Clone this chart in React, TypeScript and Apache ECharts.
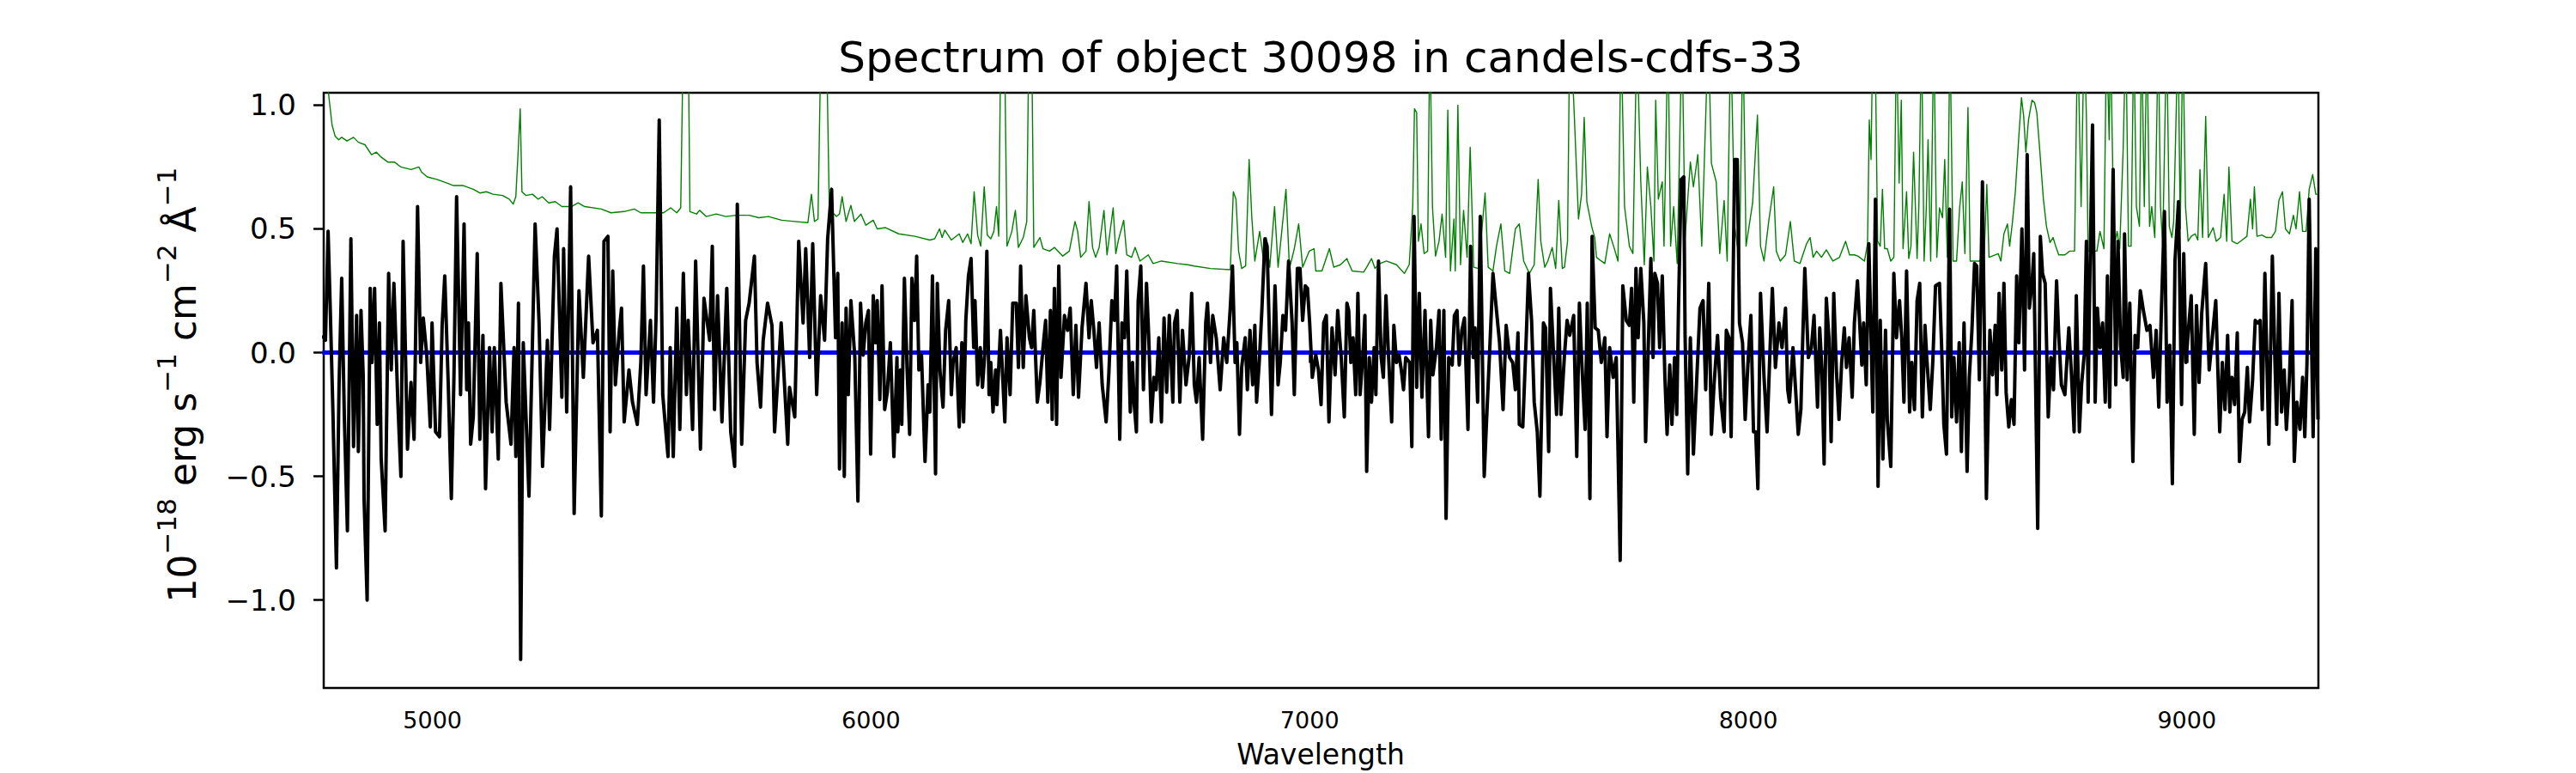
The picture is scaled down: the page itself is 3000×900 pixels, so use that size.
import React, { useEffect, useRef } from "react";
import * as echarts from "echarts";

const titleText = "Spectrum of object 30098 in candels-cdfs-33";
const xLabelText = "Wavelength";
const yLabelRich = "{m|10}{s|−18}{m| erg s}{s|−1}{m| cm}{s|−2}{m| Å}{s|−1}";
const xTicks = [5000, 6000, 7000, 8000, 9000];
const yTicks = [-1.0, -0.5, 0.0, 0.5, 1.0];
const xRange = [4752, 9300];
const yRange = [-1.355, 1.05];
const zeroLine = [[4749, 0], [9300, 0]];

// observed flux (black), 10^-18 erg/s/cm2/A, [wavelength, flux]
const spectrum1 = [
[4749,0.07],[4756,0.05],[4762,0.49],[4767,0.17],[4773,-0.24],[4781,-0.87],[4787,-0.13],[4793,0.30],[4799,-0.26],[4806,-0.72],[4814,0.46],[4820,-0.38],[4827,0.15],[4831,-0.40],[4837,0.17],[4842,-0.09],[4844,-0.59],[4851,-1.00],[4858,0.26],[4862,-0.04],[4868,0.26],[4874,-0.29],[4879,0.12],[4883,-0.43],[4892,-0.72],[4900,0.32],[4906,-0.07],[4912,0.28],[4921,-0.20],[4928,-0.50],[4933,0.45],[4943,-0.39],[4951,-0.12],[4958,-0.35],[4966,0.59],[4973,-0.04],[4979,0.14],[4987,-0.01],[4995,-0.30],[4999,0.12],[5007,-0.32],[5016,-0.34],[5022,0.11],[5028,0.31],[5036,-0.13],[5043,-0.59],[5049,-0.09],[5055,0.63],[5064,-0.17],[5072,0.52],[5078,-0.15],[5082,0.12],[5087,-0.37],[5093,-0.26],[5102,0.40],[5108,-0.35],[5115,0.07],[5121,-0.55],[5130,0.02],[5136,-0.32],[5141,0.02],[5150,-0.43],[5156,0.28],[5168,-0.20],[5179,-0.37],[5186,0.02],[5190,-0.42],[5196,0.20],[5201,-1.24],[5207,0.04],[5220,-0.58],[5234,0.52],[5243,0.12],[5251,-0.46],[5262,0.05],[5267,-0.31],[5278,0.39],[5284,0.50],[5295,-0.18],[5299,0.42],[5306,-0.24],[5315,0.67],[5323,-0.65],[5334,0.25],[5344,-0.10],[5356,0.39],[5366,0.04],[5376,0.09],[5385,-0.66],[5391,0.45],[5400,0.47],[5405,-0.32],[5411,0.33],[5417,-0.13],[5426,0.09],[5431,0.18],[5437,-0.28],[5448,-0.07],[5456,-0.20],[5467,-0.29],[5475,-0.04],[5481,0.35],[5487,-0.17],[5497,0.13],[5504,-0.20],[5510,0.16],[5517,0.94],[5525,-0.17],[5537,-0.42],[5542,0.02],[5549,-0.42],[5557,0.18],[5564,-0.31],[5572,0.32],[5579,-0.17],[5583,0.13],[5593,-0.31],[5600,0.37],[5611,-0.39],[5619,0.22],[5632,0.05],[5638,0.43],[5643,-0.23],[5650,0.23],[5660,-0.28],[5671,0.26],[5680,-0.32],[5689,-0.46],[5695,0.60],[5705,-0.37],[5714,0.13],[5722,0.20],[5734,0.39],[5740,-0.04],[5748,-0.22],[5754,0.05],[5764,0.20],[5774,0.11],[5780,-0.32],[5795,0.12],[5810,-0.37],[5814,-0.14],[5826,-0.26],[5835,0.45],[5845,0.12],[5851,0.42],[5860,-0.02],[5867,0.44],[5876,-0.17],[5885,0.23],[5894,0.05],[5901,0.46],[5910,0.66]
];
const spectrum2 = [
[5919,0.06],[5924,0.32],[5928,-0.47],[5934,0.12],[5939,-0.50],[5943,0.18],[5948,-0.17],[5954,0.21],[5963,-0.02],[5970,-0.60],[5976,0.20],[5982,-0.01],[5988,0.12],[5994,0.17],[5999,-0.41],[6005,0.23],[6010,0.04],[6014,0.21],[6020,-0.19],[6025,0.27],[6031,-0.23],[6037,-0.16],[6044,0.04],[6052,-0.42],[6059,-0.02],[6061,-0.32],[6067,-0.07],[6070,-0.29],[6076,0.30],[6082,-0.06],[6088,-0.33],[6093,0.30],[6099,0.13],[6104,0.39],[6109,-0.07],[6115,-0.01],[6123,-0.44],[6130,-0.13],[6134,-0.24],[6140,0.31],[6147,-0.49],[6151,0.28],[6157,-0.07],[6164,-0.22],[6170,0.09],[6177,0.21],[6183,-0.17],[6187,-0.04],[6194,0.02],[6201,-0.30],[6207,0.04],[6211,-0.28],[6216,0.13],[6222,0.31],[6228,0.38],[6234,0.02],[6237,0.21],[6243,-0.13],[6249,0.02],[6254,-0.14],[6259,-0.01],[6264,0.41],[6269,-0.17],[6273,-0.04],[6278,-0.24],[6284,-0.07],[6287,-0.21],[6295,0.09],[6305,-0.28],[6310,0.06],[6317,-0.17],[6323,0.20],[6331,0.20],[6336,-0.06],[6341,0.35],[6347,-0.06],[6353,0.23],[6361,0.06],[6366,0.02],[6371,0.17],[6379,-0.20],[6385,-0.12],[6392,0.02],[6398,0.13],[6403,-0.20],[6409,0.17],[6413,-0.27],[6418,0.26],[6423,-0.29],[6428,0.35],[6433,-0.10],[6441,0.15],[6448,0.09],[6454,0.18],[6461,-0.17],[6467,0.11],[6473,-0.18],[6481,0.10],[6490,0.28],[6497,0.06],[6502,0.21],[6508,0.09],[6514,-0.06],[6520,0.12],[6527,-0.13],[6536,-0.28],[6542,-0.09],[6549,0.21],[6555,0.13],[6560,0.35],[6567,-0.35],[6572,0.12],[6578,0.06],[6583,0.33],[6591,-0.24],[6596,-0.04],[6600,-0.21],[6605,-0.32],[6609,0.21],[6615,0.35],[6621,-0.15],[6628,0.28],[6633,0.07],[6639,-0.28],[6645,-0.10],[6650,-0.15],[6656,0.06],[6662,-0.28],[6668,0.14],[6674,-0.16],[6680,0.15],[6688,-0.20],[6692,0.12],[6698,0.17],[6704,-0.20],[6710,0.09],[6718,-0.13],[6725,-0.02],[6731,0.24],[6737,-0.13],[6742,-0.20],[6748,-0.02],[6756,-0.35],[6763,0.12],[6767,0.20],[6774,-0.04],[6779,0.15],[6787,0.06],[6796,-0.15],[6804,0.06],[6811,-0.04],[6819,0.18],[6824,0.35],[6830,-0.04],[6834,0.04],[6840,-0.33],[6845,-0.06],[6853,0.06],[6858,-0.15],[6864,0.09],[6870,-0.13],[6875,0.11],[6879,-0.20],[6885,-0.04],[6891,0.17],[6898,0.46],[6903,0.43],[6909,0.02],[6913,-0.25],[6921,0.27],[6928,-0.13],[6933,-0.04],[6939,0.15],[6945,0.09],[6952,0.37],[6960,0.12],[6965,-0.17],[6972,0.34],[6978,0.34],[6984,0.13],[6990,0.27],[6995,0.26],[7000,0.12],[7006,-0.10],[7014,-0.01],[7020,-0.07],[7026,-0.21],[7032,0.12],[7038,0.15],[7044,-0.28],[7051,0.10],[7058,-0.09],[7064,0.17],[7072,-0.02],[7079,-0.26],[7085,0.20]
];
const spectrum3 = [
[7089,0.17],[7094,-0.04],[7099,0.06],[7105,-0.17],[7110,0.24],[7115,-0.17],[7121,-0.02],[7126,0.15],[7130,-0.48],[7136,-0.02],[7141,-0.20],[7147,0.02],[7151,-0.17],[7157,0.37],[7163,-0.02],[7168,-0.10],[7174,0.23],[7180,-0.02],[7187,-0.28],[7192,0.11],[7198,-0.04],[7204,-0.01],[7209,-0.07],[7214,-0.15],[7219,-0.02],[7228,-0.04],[7233,-0.38],[7238,0.55],[7244,-0.14],[7250,0.24],[7256,-0.18],[7263,0.17],[7271,-0.34],[7276,0.13],[7281,-0.09],[7289,0.02],[7295,0.17],[7300,-0.35],[7306,0.17],[7311,-0.67],[7317,-0.02],[7325,-0.05],[7330,0.15],[7336,0.17],[7341,-0.05],[7347,0.09],[7353,0.14],[7361,-0.31],[7367,0.43],[7373,-0.02],[7377,0.10],[7383,-0.20],[7389,0.55],[7398,-0.50],[7403,-0.29],[7411,0.03],[7418,0.32],[7426,0.17],[7433,0.04],[7441,-0.23],[7448,0.11],[7456,-0.02],[7463,-0.04],[7469,-0.15],[7475,0.08],[7478,-0.29],[7486,-0.30],[7494,0.07],[7499,0.32],[7506,0.13],[7512,-0.20],[7519,-0.32],[7525,-0.58],[7533,0.12],[7538,0.10],[7545,-0.40],[7549,0.26],[7557,-0.04],[7563,-0.25],[7568,0.18],[7573,-0.25],[7581,-0.01],[7587,0.13],[7593,0.07],[7602,0.15],[7609,-0.42],[7615,0.20],[7620,-0.02],[7628,-0.31],[7633,0.20],[7639,-0.59],[7644,0.47],[7651,0.10],[7658,0.09],[7665,-0.04],[7673,0.06],[7678,-0.34],[7684,0.02],[7692,-0.10],[7699,-0.02],[7708,-0.84],[7714,0.27],[7722,0.13],[7729,0.11],[7734,0.26],[7739,-0.20],[7744,0.34],[7749,0.06],[7755,0.34],[7762,0.12],[7766,-0.36],[7771,-0.04],[7778,0.38],[7783,-0.02],[7787,0.32],[7793,0.28],[7798,0.02],[7804,0.31],[7810,-0.10],[7815,-0.33],[7821,-0.05],[7826,-0.29],[7832,-0.02],[7837,-0.25],[7841,0.18],[7847,0.70],[7853,0.71],[7856,0.07],[7862,-0.49],[7868,0.06],[7875,-0.41],[7882,-0.13],[7890,0.18],[7897,0.21],[7903,-0.15],[7910,0.28],[7916,-0.33],[7922,-0.13],[7930,0.07],[7937,-0.18],[7945,-0.32],[7950,0.09],[7956,0.06],[7961,-0.34],[7969,0.78],[7975,0.78],[7980,0.12],[7987,0.04],[7993,-0.27],[8000,-0.02],[8006,0.15],[8012,-0.32],[8017,-0.32],[8022,-0.55],[8028,0.24],[8036,-0.10],[8043,-0.32],[8049,-0.02],[8055,0.26],[8062,-0.06],[8070,0.12],[8077,0.02],[8085,0.18],[8090,-0.15],[8094,-0.20],[8102,0.02],[8108,-0.15],[8114,-0.33],[8120,-0.23],[8124,0.04],[8129,0.34],[8137,-0.02],[8144,0.02],[8150,0.15],[8158,-0.22],[8163,0.10],[8168,-0.07],[8173,-0.45],[8178,0.22],[8184,0.06],[8189,-0.36],[8195,0.24],[8201,-0.07],[8207,-0.27],[8213,-0.04],[8219,0.10],[8224,-0.06],[8230,0.06],[8237,-0.18],[8242,0.12],[8249,0.29]
];
const spectrum4 = [
[8259,-0.05],[8263,0.12],[8269,-0.13],[8275,0.44],[8284,-0.24],[8290,0.62],[8296,-0.54],[8301,0.13],[8307,-0.43],[8313,0.09],[8317,-0.27],[8325,-0.46],[8332,0.32],[8338,0.06],[8345,0.21],[8350,0.06],[8355,-0.20],[8361,0.33],[8368,-0.24],[8373,-0.04],[8379,-0.23],[8385,0.21],[8391,0.28],[8397,-0.26],[8403,0.11],[8407,-0.02],[8415,-0.23],[8421,-0.03],[8427,0.27],[8436,0.28],[8441,0.02],[8446,-0.29],[8452,-0.41],[8459,0.58],[8464,-0.26],[8469,-0.02],[8475,-0.28],[8481,0.04],[8486,-0.40],[8492,0.12],[8499,-0.48],[8504,-0.10],[8510,0.09],[8516,0.36],[8521,0.35],[8527,-0.11],[8534,0.69],[8543,-0.59],[8551,0.09],[8557,-0.09],[8563,0.11],[8567,-0.17],[8572,0.24],[8578,-0.07],[8583,0.28],[8588,-0.16],[8594,-0.30],[8600,-0.19],[8606,-0.29],[8612,0.31],[8617,0.04],[8624,0.50],[8630,-0.07],[8636,0.80],[8641,0.18],[8647,0.28],[8651,0.40],[8660,-0.71],[8666,0.47],[8671,0.32],[8677,0.28],[8684,-0.26],[8690,-0.02],[8696,-0.15],[8703,0.29],[8708,0.07],[8714,-0.13],[8722,-0.17],[8731,0.10],[8737,-0.09],[8743,-0.32],[8748,0.23],[8755,-0.32],[8760,-0.13],[8766,-0.01],[8771,0.45],[8775,-0.20],[8779,0.31],[8785,0.92],[8791,-0.20],[8796,0.18],[8802,0.02],[8808,0.12],[8814,-0.20],[8819,0.31],[8824,-0.22],[8832,0.74],[8838,-0.13],[8843,0.45],[8849,0.03],[8855,-0.10],[8858,0.48],[8864,-0.11],[8870,0.20],[8877,-0.44],[8882,0.07],[8888,0.02],[8894,0.25],[8901,0.17],[8909,0.09],[8916,0.11],[8924,-0.10],[8930,0.09],[8936,-0.22],[8942,0.17],[8949,0.57],[8955,-0.20],[8961,0.03],[8967,-0.53],[8973,0.37],[8981,0.61],[8988,-0.21],[8993,0.40],[8998,-0.04],[9004,0.10],[9010,0.23],[9017,-0.33],[9022,0.19],[9028,-0.12],[9034,0.16],[9043,0.36],[9051,-0.07],[9058,0.06],[9066,0.21],[9075,-0.32],[9081,-0.04],[9087,-0.23],[9093,0.07],[9098,-0.24],[9103,-0.10],[9109,-0.21],[9115,0.08],[9120,-0.44],[9126,-0.27],[9132,-0.24],[9138,-0.06],[9143,-0.28],[9150,-0.11],[9156,0.13],[9162,0.12],[9167,0.13],[9172,-0.23],[9178,0.32],[9187,-0.37],[9195,0.39],[9201,-0.04],[9205,-0.29],[9210,0.24],[9216,-0.24],[9222,-0.07],[9227,-0.31],[9234,-0.10],[9240,0.21],[9245,-0.44],[9251,-0.20],[9258,-0.31],[9264,-0.10],[9269,-0.34],[9274,-0.04],[9279,0.62],[9288,-0.34],[9294,0.42],[9299,-0.27]
];

// noise / sky spectrum (green), [wavelength, flux]
const sky1 = [
[4749,1.30],[4764,1.03],[4771,0.92],[4778,0.875],[4786,0.86],[4793,0.87],[4805,0.855],[4820,0.87],[4831,0.85],[4846,0.84],[4861,0.80],[4872,0.81],[4883,0.79],[4898,0.77],[4913,0.77],[4928,0.75],[4951,0.74],[4969,0.75],[4975,0.73],[4988,0.71],[5010,0.70],[5033,0.685],[5048,0.675],[5070,0.675],[5093,0.66],[5108,0.645],[5123,0.65],[5138,0.64],[5160,0.635],[5175,0.62],[5184,0.60],[5190,0.63],[5195,0.80],[5200,0.985],[5204,0.65],[5213,0.635],[5228,0.64],[5241,0.62],[5250,0.63],[5265,0.605],[5280,0.61],[5295,0.59],[5317,0.59],[5332,0.605],[5347,0.59],[5385,0.58],[5407,0.565],[5437,0.57],[5460,0.58],[5475,0.565],[5497,0.565],[5527,0.565],[5543,0.585],[5557,0.565],[5566,0.585],[5572,1.30],[5583,1.30],[5587,0.57],[5602,0.56],[5609,0.575],[5624,0.55],[5647,0.56],[5669,0.55],[5692,0.555],[5722,0.555],[5744,0.545],[5766,0.55],[5796,0.535],[5826,0.53],[5856,0.525],[5864,0.64],[5871,0.53],[5879,0.54],[5886,1.30],[5898,1.30],[5905,0.56],[5916,0.56]
];
const sky2 = [
[5921,0.55],[5928,0.56],[5934,0.63],[5943,0.53],[5954,0.595],[5962,0.53],[5977,0.56],[5988,0.515],[6005,0.535],[6014,0.50],[6033,0.505],[6063,0.48],[6100,0.47],[6134,0.455],[6145,0.46],[6156,0.50],[6162,0.465],[6168,0.495],[6183,0.455],[6201,0.48],[6209,0.445],[6220,0.48],[6228,0.44],[6235,0.65],[6243,0.475],[6250,0.43],[6258,0.67],[6265,0.475],[6273,0.46],[6280,0.49],[6286,0.59],[6291,0.47],[6296,1.30],[6304,1.30],[6310,0.43],[6321,0.49],[6329,0.575],[6336,0.425],[6347,0.465],[6355,0.53],[6360,1.30],[6366,1.30],[6371,0.425],[6385,0.465],[6392,0.42],[6407,0.41],[6418,0.425],[6437,0.39],[6452,0.41],[6465,0.53],[6471,0.49],[6478,0.385],[6490,0.41],[6497,0.61],[6505,0.425],[6512,0.385],[6520,0.425],[6531,0.575],[6538,0.395],[6552,0.585],[6558,0.40],[6564,0.455],[6576,0.535],[6583,0.395],[6594,0.385],[6602,0.425],[6613,0.37],[6632,0.395],[6643,0.36],[6662,0.37],[6699,0.36],[6722,0.355],[6737,0.35],[6774,0.34],[6819,0.335],[6826,0.65],[6832,0.62],[6838,0.41],[6845,0.34],[6854,0.35],[6862,0.78],[6868,0.55],[6875,0.37],[6886,0.49],[6894,0.385],[6901,0.465],[6909,0.345],[6920,0.59],[6928,0.345],[6935,0.465],[6946,0.66],[6954,0.34],[6965,0.42],[6975,0.52],[6984,0.345],[6999,0.41],[7010,0.42],[7014,0.33],[7028,0.33],[7045,0.42],[7055,0.345],[7070,0.355],[7085,0.38]
];
const sky3 = [
[7087,0.37],[7097,0.33],[7123,0.325],[7130,0.345],[7141,0.38],[7149,0.34],[7160,0.36],[7175,0.37],[7198,0.355],[7216,0.32],[7227,0.355],[7235,0.59],[7239,0.985],[7244,0.97],[7248,0.45],[7254,0.52],[7261,0.40],[7269,0.41],[7274,1.30],[7280,0.59],[7287,0.39],[7295,0.45],[7302,0.56],[7310,0.385],[7315,0.98],[7321,0.33],[7329,0.54],[7332,0.33],[7338,1.00],[7344,0.355],[7351,0.575],[7359,0.385],[7366,0.83],[7374,0.345],[7385,0.34],[7400,0.645],[7407,0.345],[7418,0.33],[7426,0.43],[7436,0.52],[7445,0.33],[7456,0.32],[7469,0.50],[7478,0.52],[7488,0.37],[7501,0.32],[7512,0.355],[7521,0.70],[7527,0.45],[7536,0.345],[7543,0.37],[7553,0.425],[7561,0.34],[7568,0.615],[7576,0.34],[7581,0.345],[7588,0.45],[7593,1.30],[7602,1.02],[7613,0.54],[7620,0.64],[7626,0.95],[7632,0.61],[7643,0.51],[7650,0.465],[7654,0.385],[7665,0.37],[7673,0.36],[7684,0.48],[7693,0.43],[7703,0.37],[7710,1.30],[7718,0.59],[7729,0.43],[7737,0.40],[7746,1.30],[7755,0.69],[7763,0.355],[7770,0.75],[7778,0.59],[7785,0.37],[7789,1.02],[7795,0.62],[7804,0.69],[7808,0.43],[7817,1.30],[7823,0.43],[7830,0.59],[7838,0.36],[7849,1.30],[7856,0.465],[7868,0.77],[7875,0.67],[7885,0.80],[7894,0.43],[7909,1.30],[7916,0.765],[7927,0.69],[7935,0.40],[7945,0.615],[7952,0.37],[7960,1.30],[7969,0.51],[7980,0.37],[7988,1.30],[7995,0.43],[8010,0.605],[8021,0.96],[8028,0.43],[8036,0.37],[8047,0.535],[8058,0.67],[8064,0.41],[8073,0.37],[8085,0.395],[8096,0.53],[8105,0.37],[8118,0.36],[8133,0.44],[8141,0.465],[8148,0.385],[8156,0.41],[8167,0.385],[8178,0.415],[8193,0.37],[8208,0.385],[8222,0.45],[8231,0.395],[8242,0.395]
];
const sky4 = [
[8250,0.39],[8265,0.37],[8272,0.44],[8276,0.94],[8280,0.78],[8284,1.30],[8289,1.30],[8295,0.45],[8301,0.43],[8306,0.66],[8311,0.42],[8317,0.42],[8325,0.37],[8332,0.385],[8338,1.30],[8344,0.685],[8349,1.02],[8353,0.42],[8361,0.65],[8366,0.38],[8371,0.43],[8377,0.81],[8385,0.38],[8389,0.59],[8395,1.30],[8401,0.37],[8406,0.585],[8410,0.86],[8416,0.37],[8423,1.30],[8430,0.385],[8436,0.585],[8443,0.545],[8448,0.78],[8454,0.385],[8460,1.30],[8467,0.37],[8475,0.37],[8482,0.585],[8488,0.69],[8494,0.40],[8501,0.99],[8506,0.37],[8527,0.37],[8538,0.40],[8544,0.68],[8549,0.385],[8570,0.40],[8576,0.37],[8583,0.48],[8591,0.52],[8596,0.43],[8602,0.52],[8609,0.65],[8617,0.875],[8623,1.03],[8628,0.955],[8633,0.81],[8639,0.94],[8647,1.02],[8653,1.01],[8658,0.97],[8665,0.81],[8673,0.62],[8680,0.51],[8688,0.445],[8695,0.465],[8701,0.43],[8708,0.395],[8722,0.395],[8733,0.41],[8744,0.41],[8751,1.30],[8759,0.59],[8766,1.30],[8771,0.955],[8775,0.41],[8785,0.41],[8795,0.41],[8802,0.49],[8811,0.42],[8817,1.30],[8823,0.86],[8826,1.30],[8834,0.42],[8841,0.49],[8847,0.42],[8855,0.83],[8861,1.30],[8867,0.43],[8873,0.43],[8879,1.30],[8885,0.59],[8892,0.51],[8897,1.30],[8903,0.59],[8909,1.30],[8915,0.51],[8920,0.59],[8927,0.465],[8935,1.30],[8940,0.59],[8945,0.43],[8954,1.30],[8960,0.51],[8966,0.465],[8970,0.53],[8980,1.30],[8985,0.50],[8991,1.30],[8997,0.59],[9003,0.45],[9010,0.47],[9019,0.48],[9025,0.455],[9030,0.74],[9036,0.465],[9043,0.955],[9049,0.465],[9060,0.505],[9067,0.45],[9077,0.465],[9085,0.64],[9091,0.45],[9096,0.75],[9103,0.45],[9115,0.44],[9126,0.455],[9137,0.47],[9145,0.62],[9150,0.50],[9154,0.67],[9160,0.47],[9171,0.475],[9182,0.465],[9193,0.465],[9202,0.49],[9210,0.615],[9218,0.65],[9225,0.50],[9234,0.48],[9243,0.555],[9249,0.50],[9257,0.65],[9264,0.49],[9272,0.49],[9279,0.66],[9287,0.72],[9294,0.64],[9299,0.64]
];

const FONT = "DejaVu Sans";

export default function App() {
  const ref = useRef<HTMLDivElement>(null);
  useEffect(() => {
    if (!ref.current) return;
    const chart = echarts.init(ref.current, undefined, { renderer: "svg" });
    const spectrum = [...spectrum1, ...spectrum2, ...spectrum3, ...spectrum4];
    const sky = [...sky1, ...sky2, ...sky3, ...sky4];
    const fmtY = (v: number) => (v < 0 ? "\u2212" : "") + Math.abs(v).toFixed(1);
    chart.setOption({
      animation: false,
      backgroundColor: "#ffffff",
      grid: {
        left: 377, right: 300, top: 108, bottom: 99,
        show: true, borderColor: "#000", borderWidth: 2.5, backgroundColor: "transparent",
      },
      xAxis: {
        type: "value", min: xRange[0], max: xRange[1],
        axisLine: { show: false },
        splitLine: { show: false },
        axisTick: { show: true, length: 12, lineStyle: { color: "#000", width: 2.5 }, customValues: xTicks },
        axisLabel: { customValues: xTicks, fontSize: 27, fontFamily: FONT, color: "#000", margin: 24, formatter: (v: number) => String(v) },
      },
      yAxis: {
        type: "value", min: yRange[0], max: yRange[1],
        axisLine: { show: false },
        splitLine: { show: false },
        axisTick: { show: true, length: 12, lineStyle: { color: "#000", width: 2.5 }, customValues: yTicks },
        axisLabel: { customValues: yTicks, fontSize: 34, fontFamily: FONT, color: "#000", margin: 32, formatter: fmtY },
      },
      graphic: [
        { type: "text", x: 1538, y: 67, style: { text: titleText, fontSize: 50, fontFamily: FONT, fill: "#000", align: "center", verticalAlign: "middle" } },
        { type: "text", x: 1538, y: 878, style: { text: xLabelText, fontSize: 33, fontFamily: FONT, fill: "#000", align: "center", verticalAlign: "middle" } },
        {
          type: "text", x: 212, y: 448, rotation: Math.PI / 2,
          style: {
            text: yLabelRich, fill: "#000", align: "center", verticalAlign: "middle",
            rich: {
              m: { fontSize: 44, fontFamily: FONT, lineHeight: 68, fill: "#000" },
              s: { fontSize: 31, fontFamily: FONT, lineHeight: 31, verticalAlign: "top", fill: "#000" },
            },
          },
        },
      ],
      series: [
        { type: "line", data: zeroLine, symbol: "none", lineStyle: { color: "#0000ff", width: 5 }, silent: true, z: 2 },
        { type: "line", data: sky, symbol: "none", lineStyle: { color: "#008000", width: 1.4, join: "round" }, silent: true, z: 3 },
        { type: "line", data: spectrum, symbol: "none", lineStyle: { color: "#000000", width: 4, join: "round" }, silent: true, z: 4 },
      ],
    });
    return () => chart.dispose();
  }, []);
  return <div ref={ref} style={{ position: "fixed", left: 0, top: 0, width: 3000, height: 900, background: "#fff" }} />;
}
